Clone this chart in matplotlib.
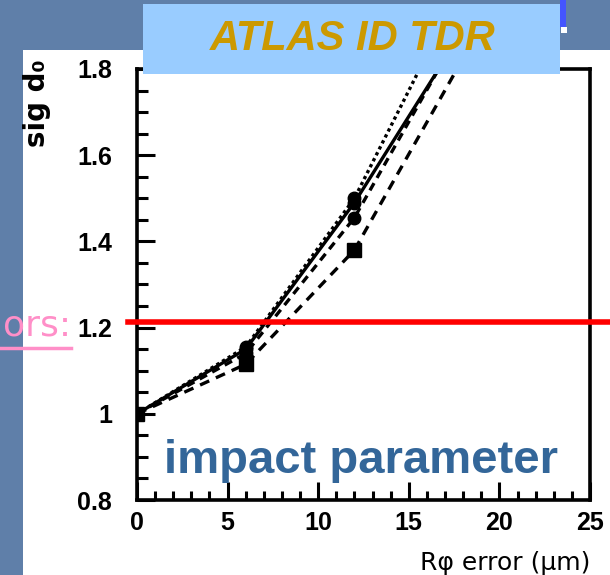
import numpy as np
import matplotlib.pyplot as plt
from matplotlib.patches import Rectangle
from matplotlib.lines import Line2D
from matplotlib.ticker import MultipleLocator

# R-phi error (um) vs relative significance of d0
rphi_err = [0, 6, 12, 18]
sig_dotted = [1.0, 1.155, 1.50, 2.00]
sig_solid = [1.0, 1.150, 1.49, 1.89]
sig_dash = [1.0, 1.140, 1.455, 1.90]
sig_square = [1.0, 1.115, 1.38, 1.825]
cut_level = 1.214

x_ticks = [0, 5, 10, 15, 20, 25]
y_ticks = [0.8, 1.0, 1.2, 1.4, 1.6, 1.8]
y_ticklabels = ["0.8", "1", "1.2", "1.4", "1.6", "1.8"]

W, H = 610, 575
slide_blue = "#5f7fa9"

fig = plt.figure(figsize=(W / 100, H / 100), dpi=100)
fig.patch.set_facecolor(slide_blue)

# white page of the pasted plot
fig.add_artist(Rectangle((23 / W, 0), 1, 525 / H, transform=fig.transFigure,
                         facecolor="white", edgecolor="none", zorder=-1))

ax = fig.add_axes([137 / W, 75 / H, 453 / W, 431 / H])
ax.set_facecolor("white")

ax.plot(rphi_err, sig_dotted, color="black", lw=2.4, ls=(0, (1, 1.0)),
        marker="o", ms=9)
ax.plot(rphi_err, sig_solid, color="black", lw=2.4, ls="-",
        marker="o", ms=9)
ax.plot(rphi_err, sig_dash, color="black", lw=2.4, ls=(0, (2.5, 1.8)),
        marker="o", ms=9)
ax.plot(rphi_err, sig_square, color="black", lw=2.4, ls=(0, (3, 2.2)),
        marker="s", ms=10)

ax.axhline(cut_level, xmin=-0.02, xmax=1.05, color="#ff0000", lw=4,
           clip_on=False, zorder=5)

ax.set_xlim(0, 25)
ax.set_ylim(0.8, 1.8)
ax.set_xticks(x_ticks)
ax.set_xticklabels([str(t) for t in x_ticks])
ax.set_yticks(y_ticks)
ax.set_yticklabels(y_ticklabels)
ax.xaxis.set_minor_locator(MultipleLocator(1))
ax.yaxis.set_minor_locator(MultipleLocator(0.05))
ax.tick_params(which="both", direction="in", width=2.2, colors="black")
ax.tick_params(axis="x", which="major", length=13, pad=8)
ax.tick_params(axis="x", which="minor", length=6.5)
ax.tick_params(axis="y", which="major", length=13, pad=18)
ax.tick_params(axis="y", which="minor", length=8)
for lab in ax.get_xticklabels() + ax.get_yticklabels():
    lab.set_family("Liberation Sans")
    lab.set_fontsize(18)
    lab.set_fontweight("bold")
for sp in ax.spines.values():
    sp.set_linewidth(2.6)

ax.set_xlabel("R\u03c6 error (\u03bcm)", fontsize=18, family="DejaVu Sans",
              ha="right", va="center")
ax.xaxis.set_label_coords(1.0, -(563 - 500) / 431)
ax.set_ylabel("sig d\u2080", fontsize=20, fontweight="bold", family="DejaVu Sans",
              rotation=90, ha="center", va="center")
ax.yaxis.set_label_coords(-(137 - 37) / 453, (500 - 103) / 431)

ax.text(0.495, (500 - 473) / 431, "impact parameter", transform=ax.transAxes,
        ha="center", va="baseline", fontsize=34, fontweight="bold",
        family="Liberation Sans", color="#336699")

# title box of the slide
fig.add_artist(Rectangle((143 / W, 1 - 74 / H), 417 / W, 70 / H,
                         transform=fig.transFigure, facecolor="#99ccff",
                         edgecolor="none", zorder=3))
fig.text(353 / W, 1 - 39 / H, "ATLAS ID TDR", ha="center", va="center",
         fontsize=30, fontweight="bold", style="italic",
         family="Liberation Sans", color="#cc9900", zorder=4)

# bit of a picture peeking out at the top right
fig.add_artist(Rectangle((560 / W, 1 - 27 / H), 6 / W, 27 / H,
                         transform=fig.transFigure, facecolor="#4455ff",
                         edgecolor="none", zorder=2))
fig.add_artist(Rectangle((561 / W, 1 - 33 / H), 6 / W, 6 / H,
                         transform=fig.transFigure, facecolor="white",
                         edgecolor="none", zorder=2))

# cut-off hyperlink text from the slide
fig.text(71 / W, 1 - 335 / H, "ors:", ha="right", va="baseline",
         fontsize=26, family="DejaVu Sans", color="#ff8fc8", zorder=4)
fig.add_artist(Line2D([0, 71 / W], [1 - 348 / H, 1 - 348 / H],
                      transform=fig.transFigure, color="#ff8fc8", lw=2.5,
                      zorder=4))

fig.savefig("out.png", dpi=100, facecolor=fig.get_facecolor())
